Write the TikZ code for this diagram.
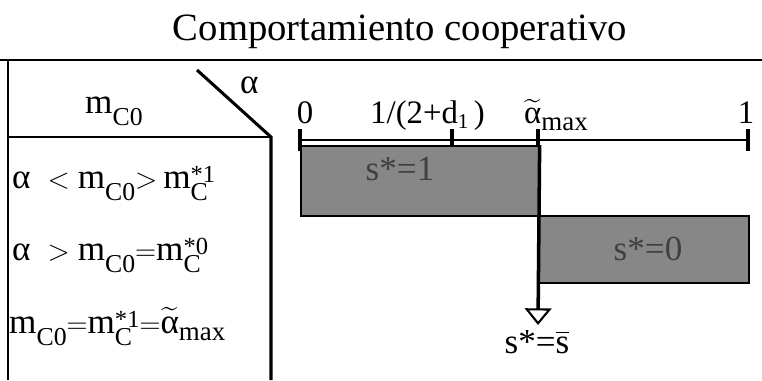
\documentclass[tikz,border=0pt]{standalone}
\usepackage{amsmath}
\usepackage{fontspec}
\setmainfont{Liberation Serif}
\usetikzlibrary{positioning,arrows.meta}

% word-processor style indices
\newcommand{\lo}[1]{\raisebox{-11pt}{\fontsize{22}{22}\selectfont #1}}
\newcommand{\hi}[1]{\raisebox{5pt}{\fontsize{21}{21}\selectfont #1}}
\newcommand{\hilo}[2]{\mbox{\rlap{\lo{#2}}\hi{#1}}}
\newcommand{\atil}{\ensuremath{\widetilde{\text{α}}}}
\newcommand{\amax}{\atil\raisebox{-6pt}{\fontsize{23}{23}\selectfont max}}

\begin{document}
\begin{tikzpicture}[
  x=0.03cm, y=-0.03cm,
  every node/.style={font=\fontsize{28}{32}\selectfont, inner sep=0pt},
  lbl/.style={anchor=base west},
  rowtxt/.style={anchor=base west, font=\fontsize{30}{34}\selectfont},
  rule/.style={line width=1.6pt},
  tick/.style={line width=3pt},
  bar/.style={draw=black, line width=1.4pt, fill=black!47, anchor=north west},
  barlbl/.style={anchor=base, text=black!75, font=\fontsize{30}{34}\selectfont},
  arr/.style={-{Triangle[open, length=5mm, width=8mm, line width=1.8pt]}, line width=3pt}
]
  \useasboundingbox (0,0) rectangle (762,380);

  % Title
  \node[anchor=base, font=\fontsize{33}{36}\selectfont] (title) at (400,40) {Comportamiento cooperativo};

  % Table frame
  \coordinate (tl) at (8,60);
  \coordinate (tr) at (762,60);
  \coordinate (bl) at (8,380);
  \coordinate (hl) at (8,137);
  \coordinate (hr) at (271,137);
  \coordinate (br) at (271,380);
  \coordinate (dg) at (197,70);
  \draw[rule] (0,60) -- (tr);
  \draw[rule] (tl) -- (bl);
  \draw[rule] (hl) -- (hr);
  \draw[line width=2.6pt] (dg) -- (hr) -- (br);

  % Header
  \node[rowtxt] (hm) at (85,113) {m\lo{C0}};
  \node[rowtxt] (ha) at (240,93) {α};

  % Rows
  \node[rowtxt] (r1) at (12,188) {α ${}<{}$m\lo{C0}$>$\,m\hilo{*1}{C}};
  \node[rowtxt] (r2) at (12,260) {α ${}>{}$m\lo{C0}$=$m\hilo{*0}{C}};
  \node[rowtxt] (r3) at (9,333) {m\lo{C0}$=$m\hilo{*1}{C}$=$\amax};

  % Axis
  \coordinate (a0) at (300,140);
  \coordinate (ad) at (452,140);
  \coordinate (am) at (538,140);
  \coordinate (a1) at (748,140);
  \draw[line width=1.6pt] (a0) -- (a1);
  \foreach \p in {a0,ad,am,a1}
    \draw[tick] ([yshift=0.32cm]\p) -- ([yshift=-0.32cm]\p);
  \node[anchor=base] (l0) at (305,123) {0};
  \node[lbl] (ld) at (370,123) {1/(2+d\raisebox{-5pt}{\fontsize{18}{18}\selectfont 1}\,)};
  \node[lbl] (lm) at (524,123) {\amax};
  \node[anchor=base] (l1) at (746,123) {1};

  % Bars
  \node[bar, minimum width=238*0.03cm, minimum height=70*0.03cm] (b1) at (300,145) {};
  \node[barlbl] (s1) at (400,180) {s*=1};
  \node[bar, minimum width=210*0.03cm, minimum height=67*0.03cm] (b0) at (538,215) {};
  \node[barlbl] (s0) at (648,260) {s*=0};

  % Arrow
  \coordinate (tip) at (538,325);
  \node[anchor=base, font=\fontsize{30}{34}\selectfont] (sb) at (537,353) {s*=$\overline{\text{s}}$};
  \draw[arr] (b1.north east) -- (tip);
\end{tikzpicture}
\end{document}
